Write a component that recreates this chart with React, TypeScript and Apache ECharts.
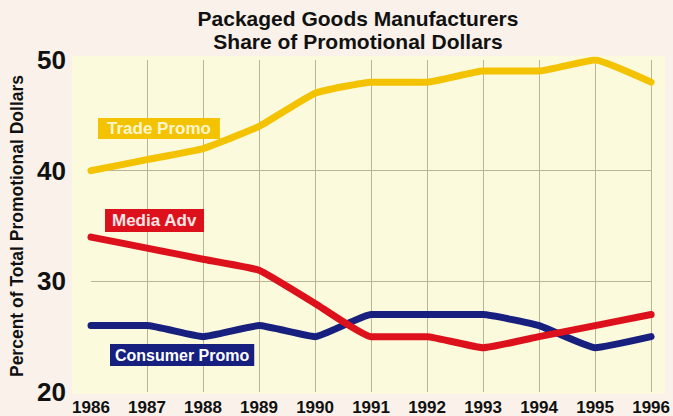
import React, { useEffect, useRef } from "react";
import * as echarts from "echarts";

const years = ["1986", "1987", "1988", "1989", "1990", "1991", "1992", "1993", "1994", "1995", "1996"];
const tradePromo = [40, 41, 42, 44, 47, 48, 48, 49, 49, 50, 48];
const mediaAdv = [34, 33, 32, 31, 28, 25, 25, 24, 25, 26, 27];
const consumerPromo = [26, 26, 25, 26, 25, 27, 27, 27, 26, 24, 25];
const yMin = 20;
const yMax = 50;
const yInterval = 10;
const titleLines = ["Packaged Goods Manufacturers", "Share of Promotional Dollars"];
const yAxisTitle = "Percent of Total Promotional Dollars";
const seriesNames = ["Consumer Promo", "Media Adv", "Trade Promo"];

const FONT = "'Liberation Sans', Arial, Helvetica, sans-serif";
const PAGE_BG = "#f9f1ea";
const PLOT_BG = "#fbfadc";
const YELLOW = "#f3c200";
const RED = "#dd111b";
const NAVY = "#17207e";
const GRID = "#b9b595";

export default function App() {
  const ref = useRef<HTMLDivElement>(null);

  useEffect(() => {
    document.body.style.margin = "0";
    document.body.style.background = PAGE_BG;
    if (!ref.current) return;
    const chart = echarts.init(ref.current, undefined, { renderer: "svg" });

    const lineSeries = (name: string, data: number[], color: string, z: number) => ({
      name,
      type: "line",
      data,
      z,
      symbol: "none",
      smooth: 0.12,
      lineStyle: { color, width: 7, cap: "round", join: "round" },
      emphasis: { disabled: true },
    });

    chart.setOption({
      animation: false,
      backgroundColor: PAGE_BG,
      grid: { left: 88, right: 15, top: 60, bottom: 23, containLabel: false },
      xAxis: {
        type: "category",
        data: years,
        boundaryGap: false,
        axisLine: { show: false },
        axisTick: { show: false },
        axisLabel: {
          fontFamily: FONT,
          fontWeight: "bold",
          fontSize: 17,
          color: "#111",
          margin: 7,
        },
        splitLine: {
          show: true,
          interval: (index: number) => index > 0,
          lineStyle: { color: GRID, width: 1 },
        },
      },
      yAxis: {
        type: "value",
        min: yMin,
        max: yMax,
        interval: yInterval,
        name: yAxisTitle,
        nameLocation: "middle",
        nameRotate: 90,
        nameGap: 65,
        nameTextStyle: {
          fontFamily: FONT,
          fontWeight: "bold",
          fontSize: 17.5,
          color: "#111",
        },
        axisLine: { show: false },
        axisTick: { show: false },
        axisLabel: {
          fontFamily: FONT,
          fontWeight: "bold",
          fontSize: 26,
          color: "#111",
          margin: 25,
        },
        splitLine: {
          show: true,
          lineStyle: { color: ["transparent", GRID, GRID, "transparent"], width: 1 },
        },
      },
      graphic: [
        {
          type: "rect",
          z: -10,
          silent: true,
          shape: { x: 72, y: 56, width: 593, height: 338 },
          style: { fill: PLOT_BG },
        },
        {
          type: "text",
          x: 358,
          y: 7,
          style: {
            text: titleLines.join("\n"),
            fontFamily: FONT,
            fontWeight: "bold",
            fontSize: 21,
            lineHeight: 23,
            fill: "#111",
            textAlign: "center",
            textVerticalAlign: "top",
          },
        },
        {
          type: "text",
          x: 98,
          y: 118,
          z: 100,
          style: {
            text: seriesNames[2],
            fontFamily: FONT,
            fontWeight: "bold",
            fontSize: 17,
            fill: "#fff6cf",
            backgroundColor: YELLOW,
            padding: [2, 9, 2, 9],
          },
        },
        {
          type: "text",
          x: 105,
          y: 209,
          z: 100,
          style: {
            text: seriesNames[1],
            fontFamily: FONT,
            fontWeight: "bold",
            fontSize: 17,
            fill: "#ffe6e6",
            backgroundColor: RED,
            padding: [3, 7, 3, 7],
          },
        },
        {
          type: "text",
          x: 110,
          y: 344,
          z: 100,
          style: {
            text: seriesNames[0],
            fontFamily: FONT,
            fontWeight: "bold",
            fontSize: 16,
            fill: "#ffffff",
            backgroundColor: NAVY,
            padding: [3, 5, 3, 5],
          },
        },
      ],
      series: [
        lineSeries(seriesNames[0], consumerPromo, NAVY, 2),
        lineSeries(seriesNames[1], mediaAdv, RED, 3),
        lineSeries(seriesNames[2], tradePromo, YELLOW, 4),
      ],
    });

    return () => chart.dispose();
  }, []);

  return <div ref={ref} style={{ width: 673, height: 416 }} />;
}
